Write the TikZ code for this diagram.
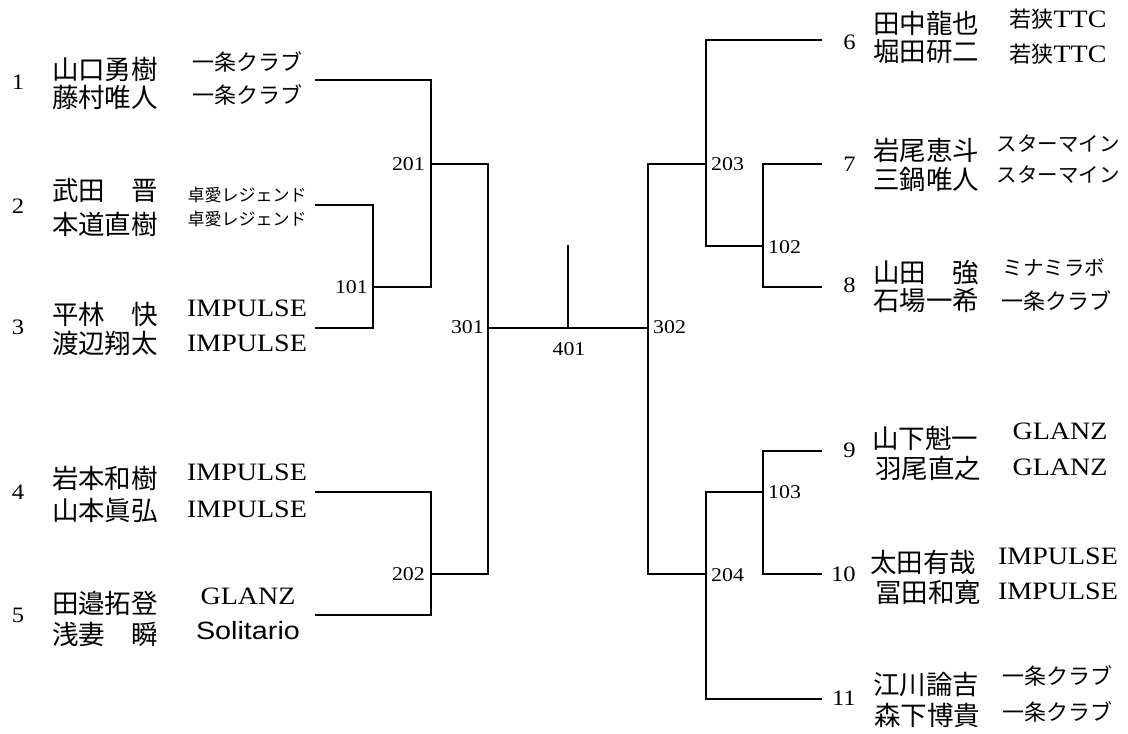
\documentclass[tikz,border=0pt]{standalone}
\usepackage{fontspec}
\setmainfont{Liberation Serif}
\newfontfamily\cjk{Noto Sans CJK JP}
\newfontfamily\lat{Liberation Serif}[FakeStretch=1.12]
\newfontfamily\latsans{Liberation Sans}[FakeStretch=1.15]
\tikzset{
  nm/.style={font=\cjk\fontsize{26.5}{28}\selectfont, inner sep=0pt},
  tm/.style={font=\cjk\fontsize{22}{24}\selectfont, inner sep=0pt},
  tms/.style={font=\cjk\fontsize{17}{20}\selectfont, inner sep=0pt},
  tml/.style={font=\lat\fontsize{25}{28}\selectfont, inner sep=0pt},
  num/.style={font=\lat\fontsize{22}{24}\selectfont, inner sep=0pt},
  lbl/.style={font=\lat\fontsize{19.5}{22}\selectfont, inner sep=0pt},
  ln/.style={line width=2pt}
}
\begin{document}
\begin{tikzpicture}[x=1pt,y=-1pt]
\useasboundingbox (0,0) rectangle (1128,734);
% ---------- coordinates ----------
\coordinate (e1) at (315,80);
\coordinate (e2) at (315,205);
\coordinate (e3) at (315,328);
\coordinate (e4) at (315,492);
\coordinate (e5) at (315,615);
\coordinate (m101) at (373,287);
\coordinate (m201) at (431,164);
\coordinate (m202) at (431,574);
\coordinate (m301) at (488,328);
\coordinate (m401) at (568,328);
\coordinate (top401) at (568,245);
\coordinate (m302) at (648,328);
\coordinate (m203) at (706,164);
\coordinate (m102) at (763,246);
\coordinate (m103) at (763,492);
\coordinate (m204) at (706,574);
\coordinate (e6) at (822,40);
\coordinate (e7) at (822,164);
\coordinate (e8) at (822,287);
\coordinate (e9) at (822,451);
\coordinate (e10) at (822,574);
\coordinate (e11) at (822,699);
% ---------- bracket ----------
\draw[ln] (e2) -| (m101) |- (e3);
\draw[ln] (e1) -| (m201) |- (m101);
\draw[ln] (e4) -| (m202) |- (e5);
\draw[ln] (m201) -| (m301) |- (m202);
\draw[ln] (m301) -- (m302);
\draw[ln] (m401) -- (top401);
\draw[ln] (m203) -| (m302) |- (m204);
\draw[ln] (e6) -| (m203) |- (m102);
\draw[ln] (e7) -| (m102) |- (e8);
\draw[ln] (e9) -| (m103) |- (e10);
\draw[ln] (m103) -| (m204) |- (e11);
% ---------- match labels ----------
\node[lbl, anchor=east] (l201) at (425,164) {201};
\node[lbl, anchor=east] (l101) at (368,287) {101};
\node[lbl, anchor=east] (l301) at (484,327) {301};
\node[lbl] (l401) at (569,349) {401};
\node[lbl, anchor=west] (l302) at (653,327) {302};
\node[lbl, anchor=east] (l202) at (425,574) {202};
\node[lbl, anchor=west] (l203) at (711,164) {203};
\node[lbl, anchor=west] (l102) at (768,247) {102};
\node[lbl, anchor=west] (l103) at (768,492) {103};
\node[lbl, anchor=west] (l204) at (711,575) {204};
% ---------- left entries ----------
\node[num] (num1) at (18,82) {1};
\node[nm] (n1a) at (105,69) {山口勇樹};
\node[nm] (n1b) at (105,97) {藤村唯人};
\node[tm] (t1a) at (247,62) {一条クラブ};
\node[tm] (t1b) at (247,95) {一条クラブ};

\node[num] (num2) at (18,206) {2};
\node[nm] (n2a) at (105,191) {武田　晋};
\node[nm] (n2b) at (105,224) {本道直樹};
\node[tms] (t2a) at (247,195) {卓愛レジェンド};
\node[tms] (t2b) at (247,219) {卓愛レジェンド};

\node[num] (num3) at (18,327) {3};
\node[nm] (n3a) at (105,314) {平林　快};
\node[nm] (n3b) at (105,343) {渡辺翔太};
\node[tml] (t3a) at (247,308) {IMPULSE};
\node[tml] (t3b) at (247,343) {IMPULSE};

\node[num] (num4) at (18,492) {4};
\node[nm] (n4a) at (105,478) {岩本和樹};
\node[nm] (n4b) at (105,510) {山本眞弘};
\node[tml] (t4a) at (247,472) {IMPULSE};
\node[tml] (t4b) at (247,509) {IMPULSE};

\node[num] (num5) at (18,615) {5};
\node[nm] (n5a) at (105,603) {田邉拓登};
\node[nm] (n5b) at (105,634) {浅妻　瞬};
\node[tml] (t5a) at (248,596) {GLANZ};
\node[font=\latsans\fontsize{25}{28}\selectfont, inner sep=0pt] (t5b) at (248,631) {Solitario};
% ---------- right entries ----------
\node[num, anchor=east] (num6) at (856,42) {6};
\node[nm] (n6a) at (926,23) {田中龍也};
\node[nm] (n6b) at (926,52) {堀田研二};
\node[tml] (t6a) at (1058,19) {{\cjk\fontsize{22}{24}\selectfont 若狭}TTC};
\node[tml] (t6b) at (1058,54) {{\cjk\fontsize{22}{24}\selectfont 若狭}TTC};

\node[num, anchor=east] (num7) at (856,164) {7};
\node[nm] (n7a) at (926,150) {岩尾恵斗};
\node[nm] (n7b) at (926,179) {三鍋唯人};
\node[tm, font=\cjk\fontsize{20.5}{24}\selectfont] (t7a) at (1058,144) {スターマイン};
\node[tm, font=\cjk\fontsize{20.5}{24}\selectfont] (t7b) at (1058,175) {スターマイン};

\node[num, anchor=east] (num8) at (856,285) {8};
\node[nm] (n8a) at (926,273) {山田　強};
\node[nm] (n8b) at (926,300) {石場一希};
\node[tm, font=\cjk\fontsize{20.5}{24}\selectfont] (t8a) at (1054,268) {ミナミラボ};
\node[tm] (t8b) at (1056,301) {一条クラブ};

\node[num, anchor=east] (num9) at (856,450) {9};
\node[nm] (n9a) at (925,438) {山下魁一};
\node[nm] (n9b) at (928,468) {羽尾直之};
\node[tml] (t9a) at (1060,431) {GLANZ};
\node[tml] (t9b) at (1060,467) {GLANZ};

\node[num, anchor=east] (num10) at (856,574) {10};
\node[nm] (n10a) at (923,562) {太田有哉};
\node[nm] (n10b) at (928,592) {冨田和寛};
\node[tml] (t10a) at (1058,556) {IMPULSE};
\node[tml] (t10b) at (1058,591) {IMPULSE};

\node[num, anchor=east] (num11) at (856,698) {11};
\node[nm] (n11a) at (926,685) {江川論吉};
\node[nm] (n11b) at (927,715) {森下博貴};
\node[tm] (t11a) at (1057,676) {一条クラブ};
\node[tm] (t11b) at (1057,712) {一条クラブ};
\end{tikzpicture}
\end{document}
